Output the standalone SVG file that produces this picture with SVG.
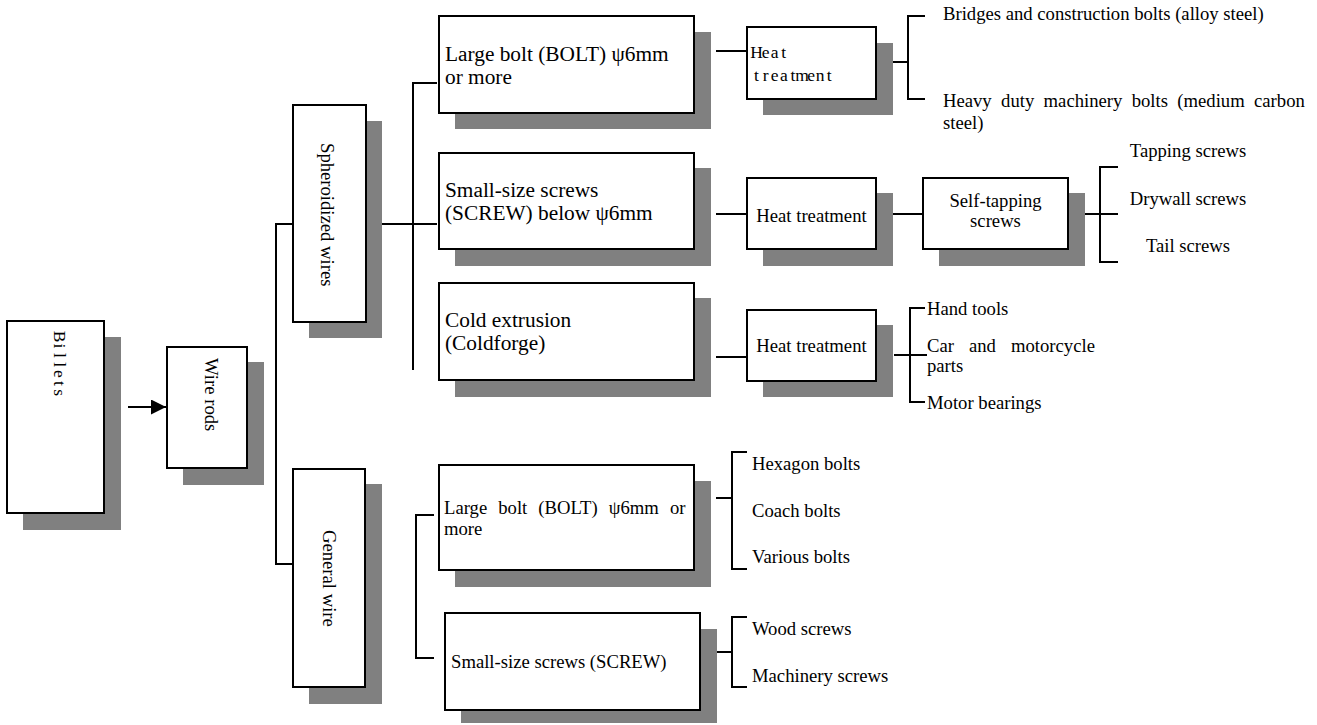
<svg xmlns="http://www.w3.org/2000/svg" width="1317" height="725" viewBox="0 0 1317 725">
<style>
.box{fill:#fff;stroke:#000;stroke-width:2}
.sh{fill:#808080}
.ln{fill:none;stroke:#000;stroke-width:2}
.t{font-family:"Liberation Serif","Times New Roman",serif;fill:#000;font-size:18.67px}
.big{font-size:21.33px}
.mono{font-size:17.5px;text-anchor:middle}
.mid{text-anchor:middle}
</style>
<defs>
<marker id="arr" markerWidth="15" markerHeight="15" refX="15" refY="7.5" orient="auto" markerUnits="userSpaceOnUse">
<path d="M0,0 L15,7.5 L0,15 Z" fill="#000"/>
</marker>
</defs>
<rect width="1317" height="725" fill="#fff"/>

<g id="connectors">
<line class="ln" x1="128" y1="407" x2="166" y2="407" marker-end="url(#arr)"/>
<polyline class="ln" points="293,224 276,224 276,564 293,564"/>
<line class="ln" x1="382" y1="224" x2="437" y2="224"/>
<polyline class="ln" points="437,83 413,83 413,370"/>
<line class="ln" x1="716" y1="51" x2="747" y2="51"/>
<line class="ln" x1="893" y1="62" x2="908" y2="62"/>
<polyline class="ln" points="925,16 908,16 908,99 925,99"/>
<line class="ln" x1="716" y1="214" x2="747" y2="214"/>
<line class="ln" x1="893" y1="214" x2="923" y2="214"/>
<line class="ln" x1="1085" y1="214" x2="1118" y2="214"/>
<polyline class="ln" points="1118,167 1100,167 1100,262 1118,262"/>
<line class="ln" x1="716" y1="357" x2="747" y2="357"/>
<line class="ln" x1="894" y1="355" x2="927" y2="355"/>
<polyline class="ln" points="925,308 910,308 910,402 925,402"/>
<polyline class="ln" points="434,515 416,515 416,658 434,658"/>
<line class="ln" x1="716" y1="498" x2="732" y2="498"/>
<polyline class="ln" points="747,452 732,452 732,569 747,569"/>
<line class="ln" x1="717" y1="652" x2="732" y2="652"/>
<polyline class="ln" points="747,617 732,617 732,687 747,687"/>
</g>

<g id="billets">
<rect class="sh" x="23" y="337" width="98" height="193"/>
<rect class="box" x="7" y="321" width="97" height="192"/>
<text class="t mono" font-family="Liberation Serif, serif" transform="translate(54,332) rotate(90)" x="4.67 14 23.33 32.67 42 51.33 60.67" y="0">Billets</text>
</g>

<g id="wire-rods">
<rect class="sh" x="183" y="362" width="81" height="123"/>
<rect class="box" x="167" y="347" width="80" height="121"/>
<text class="t" font-family="Liberation Serif, serif" transform="translate(205,358) rotate(90)">Wire rods</text>
</g>

<g id="spheroidized-wires">
<rect class="sh" x="309" y="121" width="73" height="217"/>
<rect class="box" x="293" y="105" width="73" height="217"/>
<text class="t" font-family="Liberation Serif, serif" transform="translate(321,143) rotate(90)">Spheroidized wires</text>
</g>

<g id="general-wire">
<rect class="sh" x="309" y="484" width="73" height="220"/>
<rect class="box" x="293" y="469" width="72" height="218"/>
<text class="t" font-family="Liberation Serif, serif" transform="translate(323,530) rotate(90)">General wire</text>
</g>

<g id="large-bolt-1">
<rect class="sh" x="455" y="32" width="256" height="97"/>
<rect class="box" x="439" y="16" width="255" height="97"/>
<text class="t big" font-family="Liberation Serif, serif" x="445" y="61">Large bolt (BOLT) ψ6mm</text>
<text class="t big" font-family="Liberation Serif, serif" x="445" y="84">or more</text>
</g>

<g id="small-screws-1">
<rect class="sh" x="455" y="168" width="256" height="98"/>
<rect class="box" x="439" y="153" width="255" height="96"/>
<text class="t big" font-family="Liberation Serif, serif" x="445" y="197">Small-size screws</text>
<text class="t big" font-family="Liberation Serif, serif" x="445" y="220">(SCREW) below ψ6mm</text>
</g>

<g id="cold-extrusion">
<rect class="sh" x="455" y="298" width="256" height="99"/>
<rect class="box" x="439" y="283" width="255" height="97"/>
<text class="t big" font-family="Liberation Serif, serif" x="445" y="327">Cold extrusion</text>
<text class="t big" font-family="Liberation Serif, serif" x="445" y="350">(Coldforge)</text>
</g>

<g id="heat-1">
<rect class="sh" x="763" y="43" width="130" height="72"/>
<rect class="box" x="747" y="27" width="129" height="72"/>
<text class="t mono" font-family="Liberation Serif, serif" x="756.5 765.6 774.7 783.8" y="58">Heat</text>
<text class="t mono" font-family="Liberation Serif, serif" x="756.5 765.6 774.7 783.8 792.9 802 811.1 820.2 829.3" y="81">treatment</text>
</g>

<g id="heat-2">
<rect class="sh" x="763" y="193" width="130" height="73"/>
<rect class="box" x="747" y="178" width="129" height="71"/>
<text class="t mid" font-family="Liberation Serif, serif" x="811.5" y="222">Heat treatment</text>
</g>

<g id="self-tapping">
<rect class="sh" x="939" y="193" width="146" height="73"/>
<rect class="box" x="923" y="178" width="145" height="71"/>
<text class="t mid" font-family="Liberation Serif, serif" x="995.5" y="207">Self-tapping</text>
<text class="t mid" font-family="Liberation Serif, serif" x="995.5" y="227">screws</text>
</g>

<g id="heat-3">
<rect class="sh" x="763" y="325" width="130" height="72"/>
<rect class="box" x="747" y="310" width="129" height="71"/>
<text class="t mid" font-family="Liberation Serif, serif" x="811.5" y="352">Heat treatment</text>
</g>

<g id="large-bolt-2">
<rect class="sh" x="455" y="481" width="256" height="106"/>
<rect class="box" x="439" y="465" width="255" height="105"/>
<text class="t" font-family="Liberation Serif, serif" x="444" y="514" word-spacing="6.4">Large bolt (BOLT) ψ6mm or</text>
<text class="t" font-family="Liberation Serif, serif" x="444" y="535">more</text>
</g>

<g id="small-screws-2">
<rect class="sh" x="461" y="629" width="256" height="94"/>
<rect class="box" x="445" y="613" width="255" height="97"/>
<text class="t" font-family="Liberation Serif, serif" x="451" y="668">Small-size screws (SCREW)</text>
</g>

<g id="outputs" font-family="Liberation Serif, serif">
<text class="t" x="943" y="20">Bridges and construction bolts (alloy steel)</text>
<text class="t" x="943" y="107" word-spacing="4.7">Heavy duty machinery bolts (medium carbon</text>
<text class="t" x="943" y="129">steel)</text>
<text class="t mid" x="1188" y="157">Tapping screws</text>
<text class="t mid" x="1188" y="205">Drywall screws</text>
<text class="t mid" x="1188" y="252">Tail screws</text>
<text class="t" x="927" y="315">Hand tools</text>
<text class="t" x="927" y="352" word-spacing="10.4">Car and motorcycle</text>
<text class="t" x="927" y="372">parts</text>
<text class="t" x="927" y="409">Motor bearings</text>
<text class="t" x="752" y="470">Hexagon bolts</text>
<text class="t" x="752" y="517">Coach bolts</text>
<text class="t" x="752" y="563">Various bolts</text>
<text class="t" x="752" y="635">Wood screws</text>
<text class="t" x="752" y="682">Machinery screws</text>
</g>
</svg>
